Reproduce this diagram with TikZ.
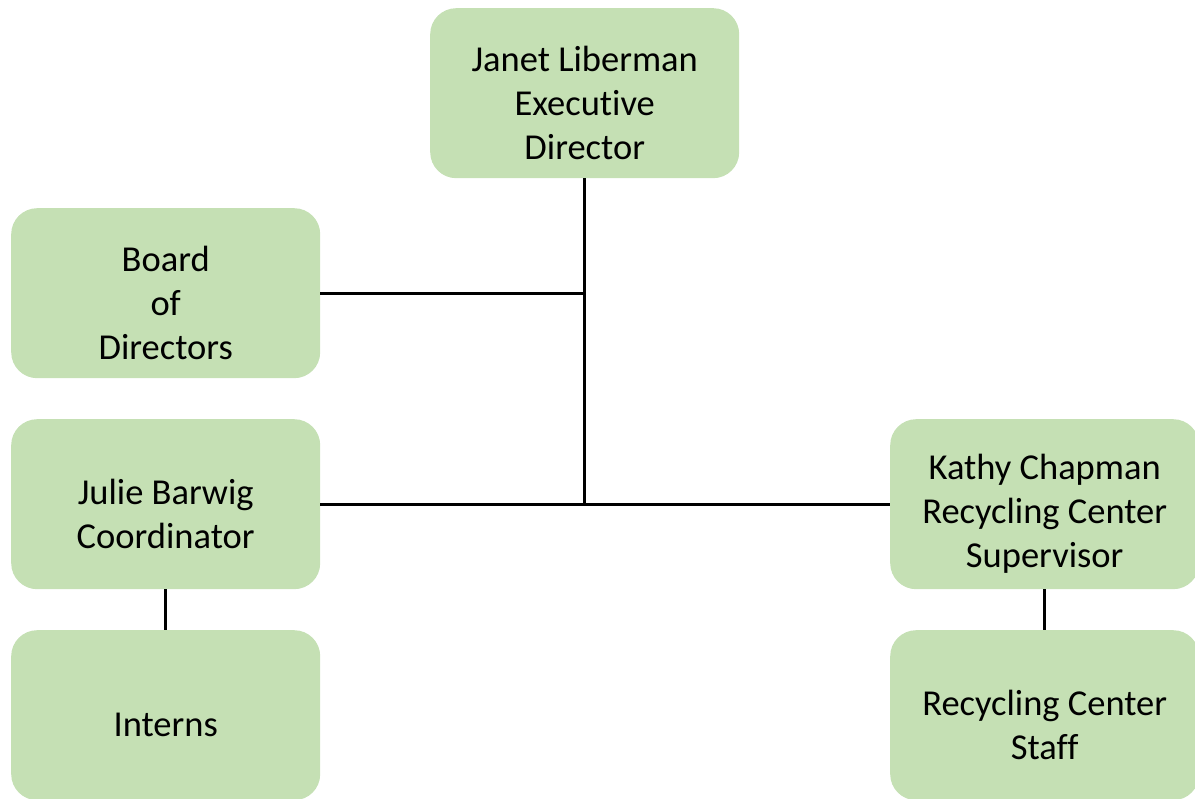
\documentclass[tikz,border=0pt]{standalone}
\usepackage{fontspec}
\setmainfont[Ligatures={NoCommon}]{Carlito}
\definecolor{boxgreen}{HTML}{C5E0B4}
\begin{document}
\begin{tikzpicture}[x=1pt,y=-1pt,
  orgbox/.style={fill=boxgreen,draw=none,rounded corners=26pt,minimum width=309pt,minimum height=170pt,inner sep=0pt,anchor=north west},
  orgtext/.style={inner sep=0pt,align=center,font=\fontsize{36.5}{44}\selectfont},
  conn/.style={line width=3pt,black}]
\clip (0,0) rectangle (1195,799);
\useasboundingbox (0,0) rectangle (1195,799);
\node[orgbox] (janet) at (430,8) {};
\node[orgbox] (board) at (11,208) {};
\node[orgbox] (julie) at (11,419) {};
\node[orgbox] (interns) at (11,630) {};
\node[orgbox] (kathy) at (890,419) {};
\node[orgbox] (staff) at (890,630) {};
\node[orgtext] (janett) at ([yshift=-10pt]janet.center) {Janet Liberman\\Executive\\Director};
\node[orgtext] (boardt) at ([yshift=-10pt]board.center) {Board\\of\\Directors};
\node[orgtext] (juliet) at ([yshift=-10pt]julie.center) {Julie Barwig\\Coordinator};
\node[orgtext] (internst) at ([yshift=-10pt]interns.center) {Interns};
\node[orgtext] (kathyt) at ([yshift=-10pt]kathy.center) {Kathy Chapman\\Recycling Center\\Supervisor};
\node[orgtext] (stafft) at ([yshift=-10pt]staff.center) {Recycling Center\\Staff};
\coordinate (j1) at (janet.south |- board.east);
\coordinate (j2) at (janet.south |- julie.east);
\draw[conn] (janet.south) -- (j2);
\draw[conn] (board.east) -- (j1);
\draw[conn] (julie.east) -- (kathy.west);
\draw[conn] (julie.south) -- (interns.north);
\draw[conn] (kathy.south) -- (staff.north);
\end{tikzpicture}
\end{document}
